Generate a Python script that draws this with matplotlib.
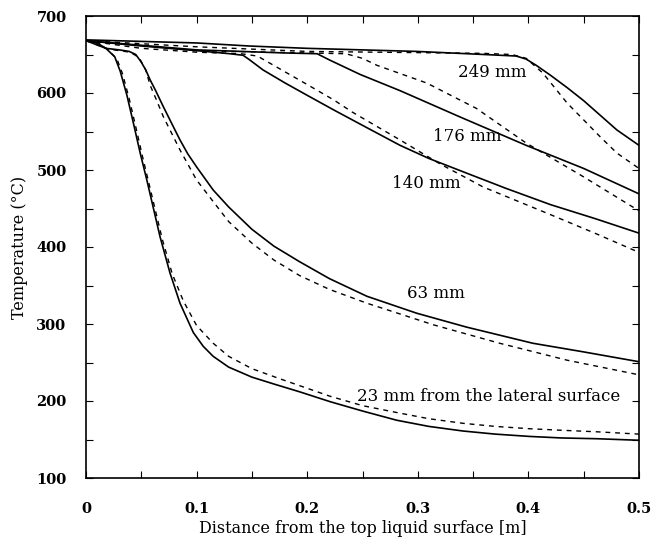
import matplotlib
matplotlib.use("Agg")
import matplotlib.pyplot as plt
from matplotlib.ticker import MultipleLocator, FuncFormatter

# ---- data (distance [m], temperature [degC]) ----
x23_s = [0, 0.010, 0.018, 0.026, 0.031, 0.037, 0.043, 0.049, 0.055, 0.061, 0.067, 0.076, 0.085,
         0.097, 0.106, 0.115, 0.129, 0.150, 0.170, 0.193, 0.221, 0.25, 0.281, 0.31, 0.341, 0.37,
         0.401, 0.43, 0.462, 0.5]
t23_s = [668, 665, 658, 647, 628, 597, 560, 522, 487, 450, 413, 366, 327,
         289, 271, 258, 244, 231, 222, 212, 199, 187, 175, 167, 161, 157,
         154, 152, 151, 149]
x23_d = [0, 0.012, 0.020, 0.028, 0.033, 0.039, 0.045, 0.051, 0.057, 0.063, 0.069, 0.078, 0.088,
         0.1, 0.115, 0.129, 0.15, 0.175, 0.193, 0.221, 0.25, 0.281, 0.31, 0.341, 0.37, 0.401,
         0.43, 0.462, 0.5]
t23_d = [668, 664, 656, 644, 625, 593, 556, 518, 482, 446, 410, 365, 330,
         298, 275, 258, 242, 229, 220, 206, 194, 185, 177, 171, 167, 164,
         162, 160, 157]

x63_s = [0, 0.018, 0.03, 0.039, 0.045, 0.050, 0.054, 0.058, 0.063, 0.070, 0.078, 0.085, 0.092,
         0.1, 0.115, 0.129, 0.15, 0.17, 0.193, 0.22, 0.254, 0.299, 0.344, 0.404, 0.449, 0.5]
t63_s = [668, 658, 656, 654, 650, 640, 630, 617, 603, 582, 559, 539, 521,
         504, 474, 452, 423, 401, 381, 359, 336, 314, 296, 275, 264, 251]
x63_d = [0, 0.02, 0.04, 0.048, 0.054, 0.058, 0.064, 0.07, 0.085, 0.1, 0.115, 0.129, 0.15,
         0.17, 0.193, 0.22, 0.254, 0.314, 0.374, 0.435, 0.5]
t63_d = [668, 657, 653, 646, 630, 610, 590, 569, 526, 487, 459, 433, 405,
         383, 363, 345, 327, 299, 275, 253, 234]

x140_s = [0, 0.05, 0.1, 0.13, 0.142, 0.148, 0.16, 0.18, 0.2, 0.224, 0.25, 0.284, 0.31, 0.344,
          0.38, 0.42, 0.46, 0.5]
t140_s = [668, 661, 655, 651, 649, 643, 630, 613, 597, 578, 558, 532, 515, 496,
          476, 455, 437, 418]
x140_d = [0, 0.05, 0.1, 0.14, 0.155, 0.172, 0.2, 0.224, 0.241, 0.284, 0.32, 0.359, 0.42, 0.46, 0.5]
t140_d = [668, 658, 653, 651, 648, 634, 611, 591, 575, 539, 508, 478, 442, 418, 393]

x176_s = [0, 0.1, 0.18, 0.209, 0.22, 0.248, 0.284, 0.338, 0.398, 0.45, 0.5]
t176_s = [668, 656, 652, 651, 643, 624, 603, 569, 532, 502, 469]
x176_d = [0, 0.1, 0.2, 0.235, 0.25, 0.263, 0.308, 0.353, 0.38, 0.398, 0.45, 0.5]
t176_d = [668, 655, 652, 651, 645, 636, 613, 580, 553, 535, 491, 447]

x249_s = [0, 0.1, 0.148, 0.2, 0.299, 0.36, 0.389, 0.398, 0.407, 0.42, 0.435, 0.45, 0.465, 0.48, 0.5]
t249_s = [669, 665, 661, 658, 654, 650, 648, 644, 636, 623, 607, 590, 571, 552, 532]
x249_d = [0, 0.1, 0.2, 0.359, 0.385, 0.398, 0.413, 0.435, 0.45, 0.465, 0.48, 0.5]
t249_d = [668, 660, 654, 651.5, 650, 645, 626, 587, 565, 543, 522, 502]

labels = ["249 mm", "176 mm", "140 mm", "63 mm", "23 mm from the lateral surface"]
label_pos = [(0.367, 626), (0.345, 543), (0.308, 483), (0.316, 340), (0.364, 206)]

solid = [(x23_s, t23_s), (x63_s, t63_s), (x140_s, t140_s), (x176_s, t176_s), (x249_s, t249_s)]
dashed = [(x23_d, t23_d), (x63_d, t63_d), (x140_d, t140_d), (x176_d, t176_d), (x249_d, t249_d)]

# ---- figure ----
plt.rcParams['font.family'] = ['DejaVu Serif']
fig = plt.figure(figsize=(6.51, 5.39), dpi=100)
ax = fig.add_axes([86/651, 1 - 478/539, (639-86)/651, (478-16)/539])

for xs, ts in solid:
    ax.plot(xs, ts, color='black', lw=1.2, ls='-')
for xs, ts in dashed:
    ax.plot(xs, ts, color='black', lw=1.0, ls=(0, (3.5, 3.5)))

for txt, (x, y) in zip(labels, label_pos):
    ax.text(x, y, txt, ha='center', va='center', fontsize=12)

ax.set_xlim(0, 0.5)
ax.set_ylim(100, 700)
ax.xaxis.set_major_locator(MultipleLocator(0.1))
ax.xaxis.set_minor_locator(MultipleLocator(0.05))
ax.yaxis.set_major_locator(MultipleLocator(100))
ax.yaxis.set_minor_locator(MultipleLocator(50))
ax.xaxis.set_major_formatter(FuncFormatter(lambda v, p: '0' if abs(v) < 1e-9 else f'{v:.1f}'))
ax.tick_params(which='both', direction='in', top=True, right=True, length=5, width=0.8)
ax.tick_params(axis='x', which='major', pad=17, labelsize=10.5)
ax.tick_params(axis='y', which='major', pad=14, labelsize=10.5)
for lab in ax.get_xticklabels() + ax.get_yticklabels():
    lab.set_fontweight('bold')
for s in ax.spines.values():
    s.set_linewidth(1.2)

ax.set_xlabel('Distance from the top liquid surface [m]', fontsize=11.5, labelpad=3)
ax.set_ylabel('Temperature (°C)', fontsize=11.5, labelpad=6)

fig.savefig('out.png', dpi=100)
